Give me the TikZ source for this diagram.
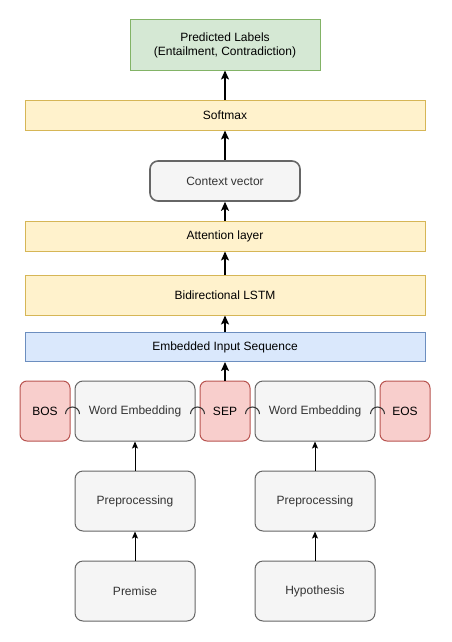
\documentclass[tikz,border=0pt]{standalone}
\usepackage{fontspec}
\setmainfont{Liberation Sans}
\usetikzlibrary{arrows.meta,calc}

\definecolor{greenfill}{HTML}{D5E8D4}
\definecolor{greenline}{HTML}{82B366}
\definecolor{yellowfill}{HTML}{FFF2CC}
\definecolor{yellowline}{HTML}{D6B656}
\definecolor{bluefill}{HTML}{DAE8FC}
\definecolor{blueline}{HTML}{6C8EBF}
\definecolor{redfill}{HTML}{F8CECC}
\definecolor{redline}{HTML}{B85450}
\definecolor{grayfill}{HTML}{F5F5F5}
\definecolor{grayline}{HTML}{666666}
\definecolor{graytext}{HTML}{333333}

\begin{document}
\begin{tikzpicture}[x=1pt, y=-1pt,
  font=\fontsize{12}{14}\selectfont,
  box/.style={draw, inner sep=0pt, align=center, line width=1pt},
  layer/.style={box, fill=yellowfill, draw=yellowline, minimum width=400pt},
  graybox/.style={box, rounded corners=8pt, fill=grayfill, draw=grayline, text=graytext,
    minimum width=120pt, minimum height=60pt},
  token/.style={box, rounded corners=7pt, fill=redfill, draw=redline,
    minimum width=50pt, minimum height=60pt},
  flow/.style={-{Stealth[length=9pt, width=8pt, inset=2pt]}, line width=1.6pt},
  thinflow/.style={-{Stealth[length=7pt, width=6pt, inset=1.5pt]}, line width=1pt},
  jump/.style={draw=graytext, line width=1pt}
]
  \useasboundingbox (0,0) rectangle (451,642);

  % Output part
  \node[box, fill=greenfill, draw=greenline, minimum width=190pt, minimum height=50pt]
    (pred) at (225,45) {Predicted Labels\\(Entailment, Contradiction)};
  \node[layer, minimum height=30pt] (softmax) at (225,115) {Softmax};
  \node[box, rounded corners=8pt, fill=grayfill, draw=grayline, text=graytext,
    line width=1.6pt, minimum width=150pt, minimum height=40pt]
    (context) at (225,181) {Context vector};
  \node[layer, minimum height=30pt] (attention) at (225,236) {Attention layer};
  \node[layer, minimum height=40pt] (lstm) at (225,295) {Bidirectional LSTM};
  \node[box, fill=bluefill, draw=blueline, minimum width=400pt, minimum height=29pt]
    (embedded) at (225,347) {Embedded Input Sequence};

  % Token row
  \node[token] (bos) at (45,411) {BOS};
  \node[graybox] (we1) at (135,411) {Word Embedding};
  \node[token] (sep) at (225,411) {SEP};
  \node[graybox] (we2) at (315,411) {Word Embedding};
  \node[token] (eos) at (405,411) {EOS};

  % Inputs
  \node[graybox] (pre1) at (135,501) {Preprocessing};
  \node[graybox] (pre2) at (315,501) {Preprocessing};
  \node[graybox] (premise) at (135,591) {Premise};
  \node[graybox] (hypothesis) at (315,591) {Hypothesis};

  % Arrows
  \draw[flow] (softmax) -- (pred);
  \draw[flow] (context) -- (softmax);
  \draw[flow] (attention) -- (context);
  \draw[flow] (lstm) -- (attention);
  \draw[flow] (embedded) -- (lstm);
  \draw[flow] (sep) -- (embedded);
  \draw[thinflow] (pre1) -- (we1);
  \draw[thinflow] (pre2) -- (we2);
  \draw[thinflow] (premise) -- (pre1);
  \draw[thinflow] (hypothesis) -- (pre2);

  % Line jumps between the tokens
  \foreach \a/\b in {bos/we1, we1/sep, sep/we2, we2/eos}
    \draw[jump] ($(\a.east)!0.5!(\b.west)+(-7,3)$) arc[start angle=180, end angle=360, radius=7];

\end{tikzpicture}
\end{document}
